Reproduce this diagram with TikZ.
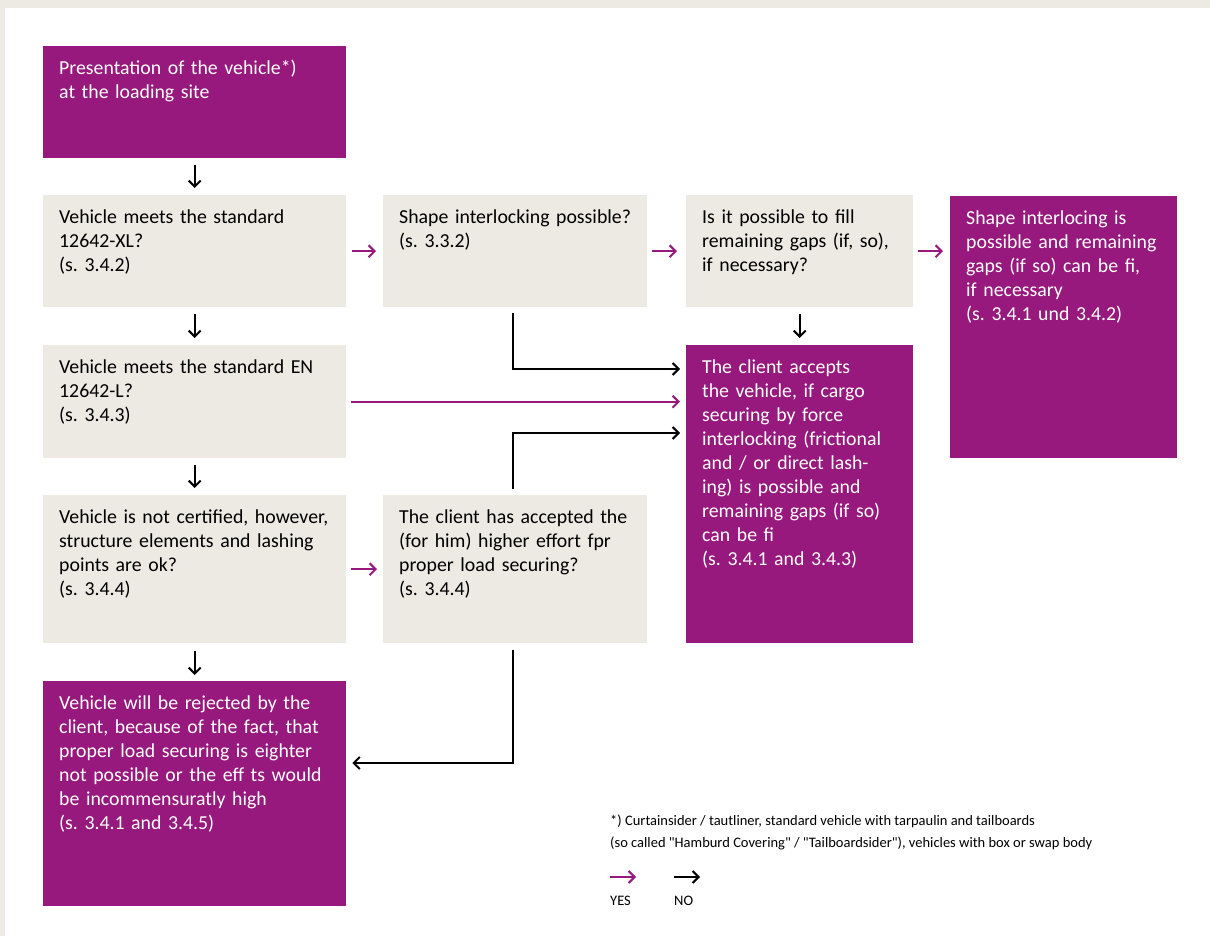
\documentclass[tikz,border=0pt]{standalone}
\usepackage{fontspec}
\setmainfont{Carlito}[Ligatures=TeXOff]
\usepackage{tikz}
\usetikzlibrary{arrows.meta,positioning,calc}
\frenchspacing

\definecolor{vpurple}{RGB}{152,25,125}
\definecolor{boxgrey}{RGB}{237,233,227}

\tikzset{
  qbox/.style={fill=boxgrey, text=black, anchor=north west, inner xsep=16pt, inner ysep=0pt,
    text height=28pt, align=left, font=\fontsize{19.8}{24}\selectfont},
  pbox/.style={qbox, fill=vpurple, text=white},
  yes/.style={draw=vpurple, line width=2pt, -{Straight Barb[length=6pt,width=12pt]}},
  no/.style={draw=black, line width=2pt, -{Straight Barb[length=6pt,width=12pt]}},
  note/.style={font=\fontsize{14.5}{22}\selectfont, align=left, inner sep=0pt}
}

\begin{document}
\begin{tikzpicture}[x=1pt,y=-1pt]
    % frame
    \fill[boxgrey] (0,0) rectangle (1210,936);
    \fill[white] (5,8) rectangle (1210,936);
    \useasboundingbox (0,0) rectangle (1210,936);

    % first column
    \node[pbox,text width=271pt,text depth=84pt] (present) at (43,46) {Presentation of the vehicle*)\\at the loading site};
    \node[qbox,text width=271pt,text depth=84pt] (xl) at (43,195) {Vehicle meets the standard\\12642-XL?\\(s. 3.4.2)};
    \node[qbox,text width=271pt,text depth=85pt] (enl) at (43,345) {Vehicle meets the standard EN\\12642-L?\\(s. 3.4.3)};
    \node[qbox,text width=271pt,text depth=120pt] (cert) at (43,495) {Vehicle is not certified, however,\\structure elements and lashing\\points are ok?\\(s. 3.4.4)};
    \node[pbox,text width=271pt,text depth=197pt] (reject) at (43,681) {Vehicle will be rejected by the\\client, because of the fact, that\\proper load securing is eighter\\not possible or the eff ts would\\be incommensuratly high\\(s. 3.4.1 and 3.4.5)};

    % second column
    \node[qbox,text width=232pt,text depth=84pt] (shape) at (383,195) {Shape interlocking possible?\\(s. 3.3.2)};
    \node[qbox,text width=232pt,text depth=120pt] (effort) at (383,495) {The client has accepted the\\(for him) higher effort fpr\\proper load securing?\\(s. 3.4.4)};

    % third column
    \node[qbox,text width=195pt,text depth=84pt] (gaps) at (686,195) {Is it possible to fill\\remaining gaps (if, so),\\if necessary?};
    \node[pbox,text width=195pt,text depth=270pt] (accept) at (686,345) {The client accepts\\the vehicle, if cargo\\securing by force\\interlocking (frictional\\and / or direct lash-\\ing) is possible and\\remaining gaps (if so)\\can be fi\\(s. 3.4.1 and 3.4.3)};

    % fourth column
    \node[pbox,text width=195pt,text depth=234pt] (shapeok) at (950,196) {Shape interlocing is\\possible and remaining\\gaps (if so) can be fi,\\if necessary\\(s. 3.4.1 und 3.4.2)};

    % arrows
    \draw[no,shorten <=7pt,shorten >=7pt] (present) -- (xl);
    \draw[no,shorten <=7pt,shorten >=7pt] (xl) -- (enl);
    \draw[no,shorten <=7pt,shorten >=7pt] (enl) -- (cert);
    \draw[no,shorten <=8pt,shorten >=6pt] (cert) -- (reject);
    \draw[no,shorten <=7pt,shorten >=7pt] (gaps) -- (accept);

    \draw[yes,shorten <=6pt,shorten >=7pt] (xl) -- (shape);
    \draw[yes,shorten <=5pt,shorten >=9pt] (shape) -- (gaps);
    \draw[yes,shorten <=5pt,shorten >=7pt] (gaps.east) -- (gaps.east -| shapeok.west);
    \draw[yes,shorten <=5pt,shorten >=6pt] (cert) -- (effort);
    \draw[yes,shorten <=5pt,shorten >=6pt] (enl) -- (enl -| accept.west);

    \draw[no,shorten <=6pt,shorten >=6pt] ([xshift=-2pt]shape.south) |- ([yshift=-24pt]accept.north west);
    \draw[no,shorten <=6pt,shorten >=6pt] ([xshift=-2pt]effort.north) |- ([yshift=-88pt]accept.north west);
    \draw[no,shorten <=7pt,shorten >=6pt] ([xshift=-2pt]effort.south) |- ([yshift=-82pt]reject.north east);

    % footnote and legend
    \node[note,anchor=base west] (fn) at (610,847) {*) Curtainsider / tautliner, standard vehicle with tarpaulin and tailboards\\(so called "Hamburd Covering" / "Tailboardsider"), vehicles with box or swap body};
    \node[note,anchor=west] (lyes) at (610,901) {YES};
    \node[note,anchor=west] (lno) at (674,901) {NO};
    \coordinate (yesa) at (610,877);
    \coordinate (noa) at (674,877);
    \draw[yes] (yesa) -- ++(26,0);
    \draw[no] (noa) -- ++(26,0);
\end{tikzpicture}
\end{document}
